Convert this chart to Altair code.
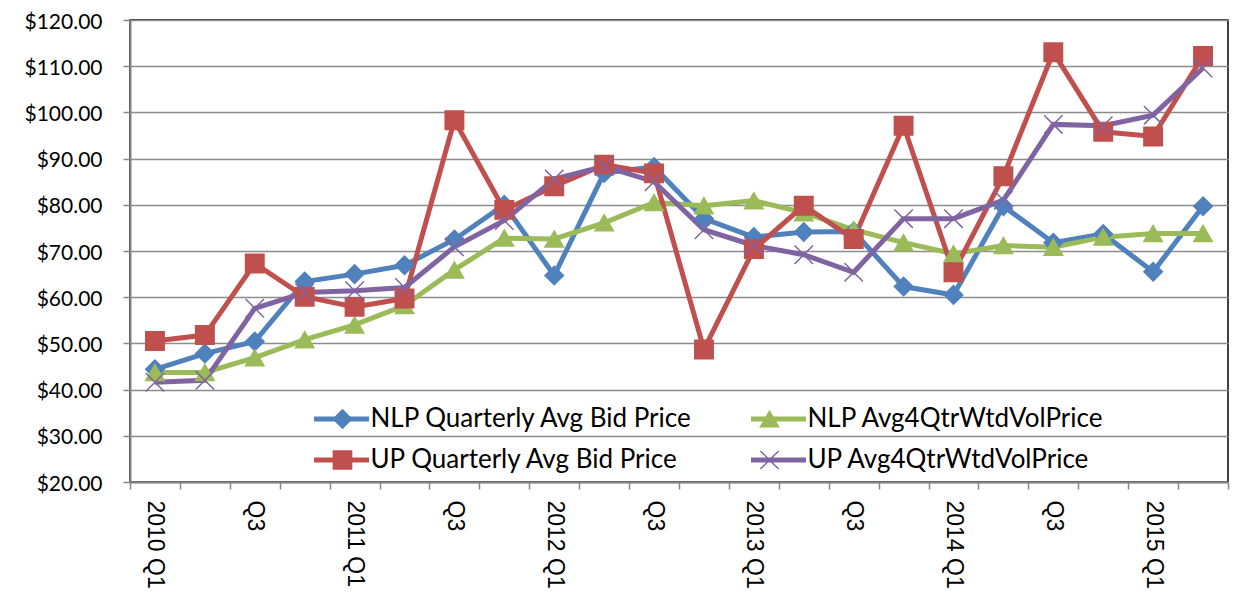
import altair as alt
import pandas as pd

quarters = ["2010 Q1", "2010 Q2", "2010 Q3", "2010 Q4",
            "2011 Q1", "2011 Q2", "2011 Q3", "2011 Q4",
            "2012 Q1", "2012 Q2", "2012 Q3", "2012 Q4",
            "2013 Q1", "2013 Q2", "2013 Q3", "2013 Q4",
            "2014 Q1", "2014 Q2", "2014 Q3", "2014 Q4",
            "2015 Q1", "2015 Q2"]
tick_labels = ["2010 Q1", "", "Q3", "", "2011 Q1", "", "Q3", "",
               "2012 Q1", "", "Q3", "", "2013 Q1", "", "Q3", "",
               "2014 Q1", "", "Q3", "", "2015 Q1", ""]

series_names = ["NLP Quarterly Avg Bid Price", "NLP Avg4QtrWtdVolPrice",
                "UP Quarterly Avg Bid Price", "UP Avg4QtrWtdVolPrice"]
series_colors = ["#4F81BD", "#9BBB59", "#C0504D", "#8064A2"]
series_shapes = ["diamond", "triangle-up", "square", "M-1,-1L1,1M-1,1L1,-1"]

nlp_quarterly = [44.4, 47.8, 50.4, 63.4, 65.0, 66.9, 72.5, 80.0, 64.7, 86.9, 88.2,
                 77.0, 73.0, 74.1, 74.2, 62.3, 60.5, 79.7, 71.8, 73.7, 65.5, 79.7]
nlp_avg4 = [43.7, 43.7, 46.9, 50.8, 54.0, 58.2, 65.9, 72.8, 72.6, 76.1, 80.5,
            79.8, 80.9, 78.3, 74.6, 71.8, 69.4, 71.2, 70.8, 73.0, 73.8, 73.8]
up_quarterly = [50.5, 51.8, 67.3, 60.1, 57.9, 59.7, 98.3, 78.9, 84.0, 88.7, 86.8,
                48.7, 70.4, 79.8, 72.6, 97.1, 65.4, 86.2, 113.0, 95.8, 94.8, 112.2]
up_avg4 = [41.6, 42.0, 57.6, 61.0, 61.4, 62.1, 70.9, 76.6, 85.6, 88.3, 85.0,
           74.6, 71.2, 69.2, 65.4, 77.0, 77.0, 81.0, 97.4, 97.1, 99.4, 109.6]

y_ticks = [20, 30, 40, 50, 60, 70, 80, 90, 100, 110, 120]

all_values = [nlp_quarterly, nlp_avg4, up_quarterly, up_avg4]
rows = []
for si, (name, vals) in enumerate(zip(series_names, all_values)):
    for qi, (q, v) in enumerate(zip(quarters, vals)):
        rows.append({"quarter": q, "series": name, "value": v, "order": si})
df = pd.DataFrame(rows)

cats_js = "[" + ",".join(f"'{c}'" for c in quarters) + "]"
labs_js = "[" + ",".join(f"'{l}'" for l in tick_labels) + "]"
label_expr = f"{labs_js}[indexof({cats_js}, datum.value)]"

x_enc = alt.X("quarter:N", sort=quarters,
              scale=alt.Scale(type="band", paddingInner=0, paddingOuter=0),
              axis=alt.Axis(title=None, labelAngle=90, labelExpr=label_expr,
                            labelFont="Liberation Sans", labelFontSize=23,
                            labelColor="#000", tickBand="extent", tickSize=7,
                            tickColor="#868686", tickWidth=1.5,
                            domainColor="#868686", domainWidth=2,
                            labelPadding=11, grid=False))
y_enc = alt.Y("value:Q",
              scale=alt.Scale(domain=[20, 120], nice=False, zero=False),
              axis=alt.Axis(title=None, values=y_ticks, format="$.2f",
                            labelFont="Lato", labelFontSize=21, labelColor="#000",
                            labelOffset=2,
                            tickSize=7, tickColor="#868686", tickWidth=1.5,
                            domainColor="#868686", domainWidth=2,
                            labelPadding=21, grid=True, gridColor="#8c8c8c",
                            gridWidth=1.5))

leg_x = 182
leg_y = 386
col_pad = 48
row_pad = 15
font_sz = 26
label1_width = 318

legend_lines = alt.Legend(orient="none", legendX=leg_x, legendY=leg_y, columns=2,
                          direction="horizontal",
                          columnPadding=col_pad, rowPadding=row_pad,
                          symbolType="M-3.235,0H3.235", symbolSize=289,
                          symbolStrokeWidth=5, symbolOffset=16.5,
                          labelOffset=16, labelFont="Lato", labelFontSize=font_sz,
                          labelColor="#000", labelLimit=500, title=None, padding=0)
legend_marks = alt.Legend(orient="none", legendX=leg_x, legendY=leg_y, columns=2,
                          direction="horizontal",
                          columnPadding=col_pad + label1_width, rowPadding=row_pad,
                          symbolSize=330, symbolStrokeWidth=1.5, symbolOffset=17.5,
                          labelOffset=17, labelExpr="''", labelFont="Lato",
                          labelFontSize=font_sz, labelLimit=500, title=None, padding=0)

lines = alt.Chart(df).mark_line(strokeWidth=5).encode(
    x=x_enc, y=y_enc,
    color=alt.Color("series:N", scale=alt.Scale(domain=series_names, range=series_colors),
                    legend=legend_lines),
    order=alt.Order("order:Q"),
    detail="series:N",
)

points = alt.Chart(df).mark_point(strokeWidth=1.5, opacity=1, size=340).encode(
    x=x_enc, y=y_enc,
    fill=alt.Fill("series:N", scale=alt.Scale(domain=series_names, range=series_colors),
                  legend=legend_marks),
    stroke=alt.Stroke("series:N", scale=alt.Scale(domain=series_names, range=series_colors),
                      legend=legend_marks),
    shape=alt.Shape("series:N", scale=alt.Scale(domain=series_names, range=series_shapes),
                    legend=legend_marks),
    order=alt.Order("order:Q"),
)

chart = alt.layer(lines, points).resolve_scale(
    color="independent", fill="independent", stroke="independent", shape="independent"
).properties(
    width=1098, height=462,
    autosize=alt.AutoSizeParams(type="none"),
    padding={"left": 122, "top": 12, "right": 14, "bottom": 110},
).configure_view(
    stroke="#000", strokeWidth=1.5
)

chart.save("out.html", embed_options={"renderer": "svg", "actions": False})
